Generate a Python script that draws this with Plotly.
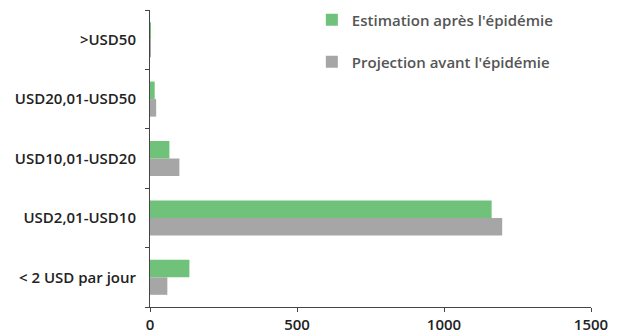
import plotly.graph_objects as go

categories = ["< 2 USD par jour", "USD2,01-USD10", "USD10,01-USD20", "USD20,01-USD50", ">USD50"]
estimation_apres = [134, 1162, 66, 16, 1]
projection_avant = [59, 1198, 100, 21, 1]

green = "#70c17a"
grey = "#a6a6a6"
font_family = "Open Sans"

fig = go.Figure()
fig.add_trace(go.Bar(
    y=categories, x=projection_avant, orientation="h",
    name="Projection avant l'épidémie", marker=dict(color=grey, line=dict(width=0)),
    legend="legend2", showlegend=True,
))
fig.add_trace(go.Bar(
    y=categories, x=estimation_apres, orientation="h",
    name="Estimation après l'épidémie", marker=dict(color=green, line=dict(width=0)),
    legend="legend", showlegend=True,
))

legend_common = dict(
    font=dict(family=font_family, size=15, color="#555555", weight=600),
    bgcolor="rgba(0,0,0,0)", xanchor="left", yanchor="middle",
    itemwidth=30,
)

# page body has an 8px default margin, so the figure is sized to fit inside it
fig.update_layout(
    width=614, height=325,
    margin=dict(l=142, r=31, t=2, b=26, autoexpand=False),
    paper_bgcolor="white", plot_bgcolor="white",
    barmode="group", bargap=0.41, bargroupgap=0,
    font=dict(family=font_family, size=15, color="#222222", weight=600),
    showlegend=True,
    legend=dict(x=0.367, y=0.966, **legend_common),
    legend2=dict(x=0.367, y=0.825, **legend_common),
    xaxis=dict(
        range=[0, 1500], tickvals=[0, 500, 1000, 1500],
        showgrid=False, zeroline=False, automargin=False,
        showline=True, linecolor="#444444", linewidth=1,
        ticks="outside", ticklen=4, tickcolor="#444444",
        ticklabelstandoff=0,
        tickfont=dict(size=15, color="#222222", weight=600),
    ),
    yaxis=dict(
        type="category", categoryorder="array", categoryarray=categories,
        showgrid=False, zeroline=False, automargin=False,
        showline=True, linecolor="#444444", linewidth=1,
        ticks="outside", ticklen=4, tickcolor="#444444",
        tickson="boundaries", ticklabelstandoff=10,
        tickfont=dict(size=15, color="#222222", weight=600),
    ),
)

fig.write_html("out.html")
